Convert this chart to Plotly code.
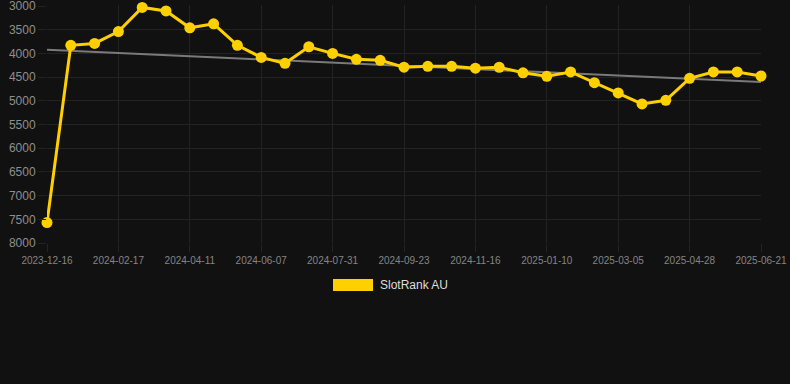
import plotly.graph_objects as go

dates = ["2023-12-16", "2024-01-06", "2024-01-27", "2024-02-17", "2024-03-07", "2024-03-25",
         "2024-04-11", "2024-04-30", "2024-05-19", "2024-06-07", "2024-06-25", "2024-07-13",
         "2024-07-31", "2024-08-18", "2024-09-05", "2024-09-23", "2024-10-11", "2024-10-29",
         "2024-11-16", "2024-12-04", "2024-12-23", "2025-01-10", "2025-01-28", "2025-02-15",
         "2025-03-05", "2025-03-23", "2025-04-10", "2025-04-28", "2025-05-16", "2025-06-03",
         "2025-06-21"]
rank = [7570, 3830, 3790, 3540, 3030, 3105, 3460, 3375, 3830, 4085, 4210, 3860,
        4000, 4125, 4145, 4290, 4272, 4272, 4312, 4292, 4410, 4483, 4392, 4618,
        4835, 5065, 4990, 4525, 4392, 4392, 4477]
trend_x = [dates[0], dates[-1]]
trend_y = [3922, 4603]
tick_labels = dates[::3]
y_ticks = [3000, 3500, 4000, 4500, 5000, 5500, 6000, 6500, 7000, 7500, 8000]

fig = go.Figure()
fig.add_trace(go.Scatter(x=trend_x, y=trend_y, mode="lines",
                         line=dict(color="#7a7a7a", width=2), showlegend=False,
                         hoverinfo="skip"))
fig.add_trace(go.Scatter(x=dates, y=rank, mode="lines+markers", name="SlotRank AU",
                         line=dict(color="#FFD000", width=3),
                         marker=dict(color="#FFD000", size=11),
                         cliponaxis=False, showlegend=False))

grid = "#232323"
H = 238.0
W = 714.0
fig.update_layout(
    width=790, height=384,
    margin=dict(l=47, r=29, t=5, b=141),
    paper_bgcolor="#111111", plot_bgcolor="#111111",
    font=dict(family="Liberation Sans, Arial, sans-serif", color="#8a8a8a"),
    xaxis=dict(type="category", categoryorder="array", categoryarray=dates,
               range=[0, len(dates) - 1], tickvals=tick_labels, ticktext=tick_labels,
               showgrid=True, gridcolor=grid, gridwidth=1, zeroline=False,
               ticks="outside", ticklen=8, tickcolor=grid, automargin=False,
               tickfont=dict(size=10, color="#858585"), showline=False),
    yaxis=dict(range=[8000, 2979], tickvals=y_ticks, showgrid=True, gridcolor=grid,
               zeroline=False, ticks="outside", ticklen=8, tickcolor=grid,
               ticklabeloverflow="allow", automargin=False,
               tickfont=dict(size=12, color="#8f8f8f"), showline=False),
    showlegend=False,
    shapes=[dict(type="rect", xref="paper", yref="paper",
                 x0=(333 - 47) / W, x1=(373 - 47) / W,
                 y0=-(291 - 243) / H, y1=-(279 - 243) / H,
                 fillcolor="#FFD000", line=dict(width=0))],
    annotations=[dict(text="SlotRank AU", xref="paper", yref="paper",
                      x=(378 - 47) / W, y=-(285 - 243) / H, xanchor="left",
                      yanchor="middle", showarrow=False,
                      font=dict(size=12, color="#dddddd"))],
)
fig.write_html("out.html")
